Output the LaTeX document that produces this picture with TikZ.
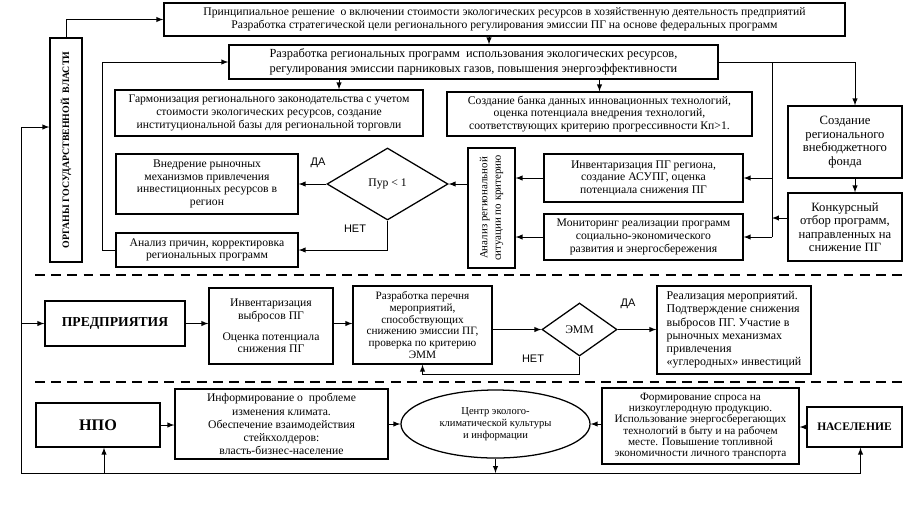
\documentclass[tikz,border=0pt]{standalone}
\usepackage{fontspec}
\setmainfont{Liberation Serif}
\setsansfont{Liberation Sans}
\usetikzlibrary{shapes.geometric, arrows}

\begin{document}
\begin{tikzpicture}
    [
		x=0.025cm, y=-0.025cm,
		block/.style={
			draw, line width=0.9pt, align=center, inner sep=1pt,
			font=\fontsize{8.3}{9}\selectfont
		},
		rhomb/.style={
			draw, diamond, line width=0.9pt, inner sep=0pt,
			font=\fontsize{8.3}{9}\selectfont
		},
		party/.style={
			block, font=\bfseries\fontsize{9.7}{11}\selectfont
		},
		arr/.style={-latex, line width=0.7pt},
		link/.style={line width=0.7pt},
		sep/.style={line width=1.3pt, dash pattern=on 7pt off 4.5pt},
		yesno/.style={font=\sffamily\fontsize{7.8}{8}\selectfont}
	]

\useasboundingbox (0,0) rectangle (912,515);

% Nodes: government
\node (organs) [party, rotate=90, minimum width=5.6cm, minimum height=0.8cm,
	font=\bfseries\fontsize{7}{8}\selectfont] at (66,150)
	{ОРГАНЫ ГОСУДАРСТВЕННОЙ~~ВЛАСТИ};
\node (top1) [block, minimum width=17.025cm, minimum height=0.825cm] at (504.5,19.5)
	{Принципиальное решение~ о включении стоимости экологических ресурсов в хозяйственную деятельность предприятий\\
	 Разработка стратегической цели регионального регулирования эмиссии ПГ на основе федеральных программ};
\node (top2) [block, minimum width=12.225cm, minimum height=0.85cm,
	font=\fontsize{8.8}{11}\selectfont] at (473.5,62)
	{Разработка региональных программ~ использования экологических ресурсов,\\
	 регулирования эмиссии парниковых газов, повышения энергоэффективности};
\node (harm) [block, minimum width=7.7cm, minimum height=1.15cm] at (269,113)
	{Гармонизация регионального законодательства с учетом\\
	 стоимости экологических ресурсов, создание\\
	 институциональной базы для региональной торговли};
\node (bank) [block, minimum width=7.625cm, minimum height=1.1cm] at (599.5,114)
	{Создание банка данных инновационных технологий,\\
	 оценка потенциала внедрения технологий,\\
	 соответствующих критерию прогрессивности Кп>1.};
\node (fund) [block, minimum width=2.85cm, minimum height=1.8cm,
	font=\fontsize{9}{9.6}\selectfont] at (845,142)
	{Создание\\ регионального\\ внебюджетного\\ фонда};
\node (vnedr) [block, minimum width=4.55cm, minimum height=1.5cm] at (207,184)
	{Внедрение рыночных\\ механизмов привлечения\\ инвестиционных ресурсов в\\ регион};
\node (pur) [rhomb, minimum width=3.025cm, minimum height=1.8cm] at (387.5,184) {Пур < 1};
\node (sit) [block, rotate=90, minimum width=3cm, minimum height=1.175cm,
	font=\fontsize{7.8}{9.5}\selectfont] at (491.5,208)
	{Анализ региональной\\ ситуации по критерию};
\node (inv) [block, minimum width=4.975cm, minimum height=1.2cm] at (643.5,178)
	{Инвентаризация ПГ региона,\\ создание АСУПГ, оценка\\ потенциала снижения ПГ};
\node (mon) [block, minimum width=4.975cm, minimum height=1.15cm] at (643.5,237)
	{Мониторинг реализации программ\\ социально-экономического\\ развития и энергосбережения};
\node (konk) [block, minimum width=2.85cm, minimum height=1.7cm,
	font=\fontsize{9}{9.6}\selectfont] at (845,227)
	{Конкурсный\\ отбор программ,\\ направленных на\\ снижение ПГ};
\node (anprich) [block, minimum width=4.55cm, minimum height=0.85cm] at (207,250)
	{Анализ причин, корректировка\\ региональных программ};

% Nodes: enterprises
\node (pred) [party, minimum width=3.5cm, minimum height=1.125cm] at (115,323.5) {ПРЕДПРИЯТИЯ};
\node (invvyb) [block, minimum width=3.1cm, minimum height=1.9cm] at (271,326)
	{Инвентаризация\\ выбросов ПГ\\[6pt] Оценка потенциала\\ снижения ПГ};
\node (perech) [block, minimum width=3.475cm, minimum height=1.95cm,
	font=\fontsize{8}{8.5}\selectfont] at (422.5,325)
	{Разработка перечня\\ мероприятий,\\ способствующих\\ снижению эмиссии ПГ,\\ проверка по критерию\\ ЭММ};
\node (emm) [rhomb, minimum width=1.875cm, minimum height=1.325cm] at (579.5,329.5) {ЭММ};
\node (real) [block, align=left, minimum width=3.85cm, minimum height=2.2cm,
	font=\fontsize{8.5}{9.4}\selectfont] at (734,330)
	{Реализация мероприятий.\\ Подтверждение снижения\\ выбросов ПГ. Участие в\\ рыночных механизмах\\ привлечения\\ «углеродных» инвестиций};

% Nodes: society
\node (npo) [party, minimum width=3.1cm, minimum height=1.1cm,
	font=\bfseries\fontsize{11.5}{13}\selectfont] at (98,425) {НПО};
\node (inform) [block, minimum width=5.325cm, minimum height=1.75cm,
	font=\fontsize{8.3}{9.3}\selectfont] at (281.5,424)
	{Информирование о~ проблеме\\ изменения климата.\\ Обеспечение взаимодействия\\ стейкхолдеров:\\ власть-бизнес-население};
\node (centre) [draw, ellipse, line width=0.9pt, inner sep=0pt, align=center,
	minimum width=4.725cm, minimum height=1.7cm,
	font=\fontsize{7.5}{8.5}\selectfont] at (495.5,424)
	{Центр эколого-\\ климатической культуры\\ и информации};
\node (form) [block, minimum width=4.925cm, minimum height=1.9cm,
	font=\fontsize{8}{7.9}\selectfont] at (700.5,426)
	{Формирование спроса на\\ низкоуглеродную продукцию.\\ Использование энергосберегающих\\ технологий в быту и на рабочем\\ месте. Повышение топливной\\ экономичности личного транспорта};
\node (nasel) [party, minimum width=2.375cm, minimum height=1cm,
	font=\bfseries\fontsize{8.2}{9}\selectfont] at (854.5,427) {НАСЕЛЕНИЕ};

% Labels
\node (yes1) [yesno] at (318,163) {ДА};
\node (no1) [yesno] at (355,229) {НЕТ};
\node (yes2) [yesno] at (628,304) {ДА};
\node (no2) [yesno] at (533,359) {НЕТ};

% Separators
\draw [sep] (35,275) -- (905,275);
\draw [sep] (35,382) -- (905,382);

% Helper points
\coordinate (bl) at (21,473);
\coordinate (bus) at (772,62);
\coordinate (fx) at (855,0);

% Transitions: frame
\draw [arr] (bl) |- (organs.north |- 0,127);
\draw [arr] (bl |- pred.west) -- (pred.west);
\draw [link] (bl) -- ([xshift=0.15cm]nasel.south |- bl);
\draw [arr] ([xshift=0.15cm]nasel.south |- bl) -- ([xshift=0.15cm]nasel.south);
\draw [arr] ([xshift=0.15cm]npo.south |- bl) -- ([xshift=0.15cm]npo.south);
\draw [arr] (centre.south) -- (centre.south |- bl);

% Transitions: government
\draw [arr] (organs.east) |- (top1.west);
\draw [arr] (top1.south -| 489,0) -- (top2.north -| 489,0);
\draw [arr] (anprich.west) -- ++(-13,0) |- (top2.west);
\draw [arr] (top2.south -| 339,0) -- (harm.north -| 339,0);
\draw [arr] (top2.south -| bank.north) -- (bank.north);
\draw [arr] (top2.east) -| (fx |- fund.north);
\draw [link] (bus) -- (bus |- mon.east);
\draw [arr] (bus |- inv.east) -- (inv.east);
\draw [arr] (bus |- mon.east) -- (mon.east);
\draw [arr] ([yshift=0.225cm]konk.west) -- ([yshift=0.225cm]konk.west -| bus);
\draw [arr] (fx |- fund.south) -- (fx |- konk.north);
\draw [arr] (inv.west) -- (inv.west -| sit.south);
\draw [arr] (mon.west) -- (mon.west -| sit.south);
\draw [arr] (pur.east -| sit.north) -- (pur.east);
\draw [arr] (pur.west) -- (vnedr.east);
\draw [arr] (pur.south) |- (anprich.east);

% Transitions: enterprises
\draw [arr] (pred.east) -- (pred.east -| invvyb.west);
\draw [arr] (invvyb.east |- pred.east) -- (perech.west |- pred.east);
\draw [arr] (perech.east |- emm.west) -- (emm.west);
\draw [arr] (emm.east) -- (emm.east -| real.west);
\draw [arr] (emm.south) -- ++(0,18) -| (perech.south);

% Transitions: society
\draw [arr] (npo.east) -- (npo.east -| inform.west);
\draw [arr] (inform.east |- centre.west) -- (centre.west);
\draw [arr] (form.west |- centre.east) -- (centre.east);
\draw [arr] (nasel.west) -- (nasel.west -| form.east);

\end{tikzpicture}
\end{document}
